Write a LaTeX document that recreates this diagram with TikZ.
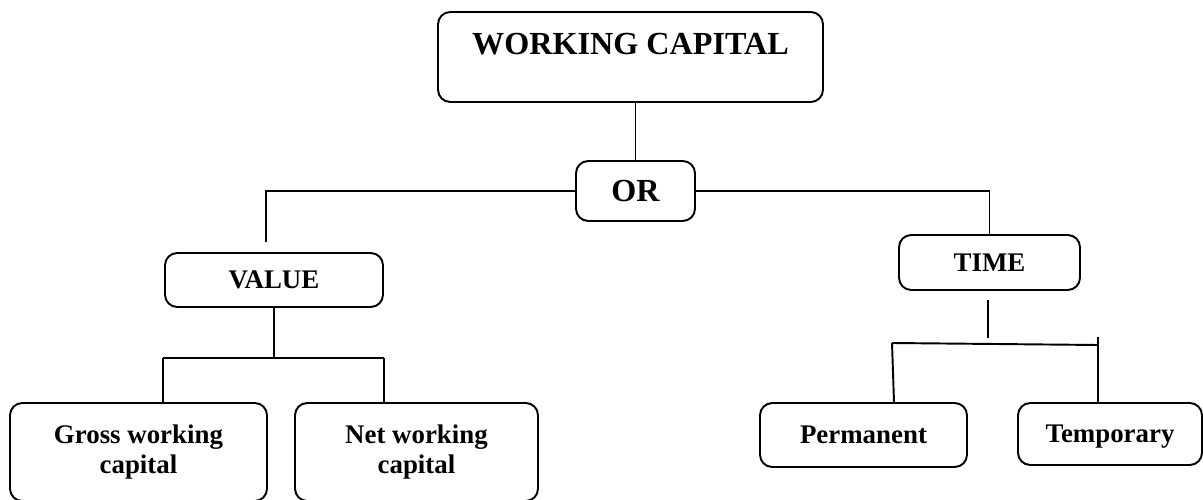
\documentclass[tikz,border=0pt]{standalone}
\usepackage{fontspec}
\setmainfont{Liberation Serif}
\usepackage{tikz}

\begin{document}
\begin{tikzpicture}[
  box/.style={draw, line width=1.1pt, rounded corners=7pt, align=center, inner sep=0pt,
    font=\bfseries\fontsize{15.3}{17}\selectfont},
  bigbox/.style={box, font=\bfseries\fontsize{18.3}{21}\selectfont},
  link/.style={line width=1.1pt}]
  \useasboundingbox (0,0) rectangle (24.06,9.98);
  % define the boxes
  \node[bigbox, minimum width=7.70cm, text height=0.86cm, text depth=0.94cm] (wc) at (12.61,8.84) {WORKING CAPITAL};
  \node[bigbox, minimum width=2.38cm, minimum height=1.20cm] (or) at (12.71,6.16) {OR};
  \node[box, minimum width=4.36cm, minimum height=1.08cm] (value) at (5.48,4.38) {VALUE};
  \node[box, minimum width=3.62cm, minimum height=1.10cm] (time) at (19.79,4.73) {TIME};
  \node[box, minimum width=5.14cm, minimum height=1.96cm] (gross) at (2.77,0.94) {Gross working\\capital};
  \node[box, minimum width=4.86cm, minimum height=1.96cm] (net) at (8.33,0.94) {Net working\\capital};
  \node[box, minimum width=4.14cm, minimum height=1.28cm] (perm) at (17.27,1.28) {Permanent};
  \node[box, minimum width=3.68cm, minimum height=1.24cm, text depth=0pt] (temp) at (22.20,1.30) {Temporary};
  % define the coordinates
  \coordinate (lv) at (5.32,5.14);
  \coordinate (vl) at (3.26,2.82);
  \coordinate (vr) at (7.68,2.82);
  \coordinate (ts) at (19.76,3.98);
  \coordinate (tm) at (19.76,3.22);
  \coordinate (tl) at (17.84,3.12);
  \coordinate (tr) at (21.96,3.08);
  \coordinate (tt) at (21.96,3.24);
  % draw the top
  \draw[link] (or.north |- wc.south) -- (or.north);
  \draw[link] (or.west) -| (lv);
  \draw[link] (or.east) -| (time.north);
  % draw the value branch
  \draw[link] (value.south) -- (value.south |- vl);
  \draw[link] (vl) -- (vr);
  \draw[link] (vl) -- (vl |- gross.north);
  \draw[link] (vr) -- (vr |- net.north);
  % draw the time branch
  \draw[link] (ts) -- (tm);
  \draw[link] (tl) -- (tr);
  \draw[link] (tl) -- ([xshift=0.04cm]tl |- perm.north);
  \draw[link] (tt) -- (tt |- temp.north);
\end{tikzpicture}
\end{document}
